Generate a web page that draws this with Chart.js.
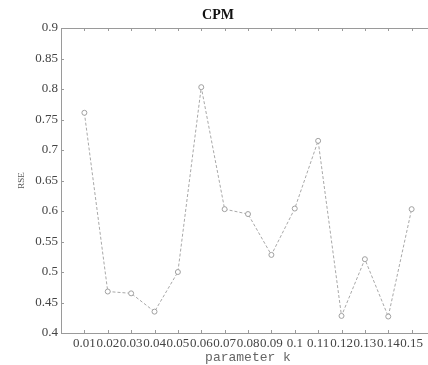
<!DOCTYPE html>
<html>
<head>
<meta charset="utf-8">
<script src="https://cdn.jsdelivr.net/npm/chart.js@4/dist/chart.umd.min.js"></script>
<style>
  html, body { margin: 0; padding: 0; overflow: hidden; background: #fff; }
  #wrap { width: 440px; height: 365px; }
</style>
</head>
<body>
<div id="wrap"><canvas id="cpm" width="440" height="365"></canvas></div>
<script>
// parameter k values and the RSE
var kValues = [0.01, 0.02, 0.03, 0.04, 0.05, 0.06, 0.07, 0.08, 0.09, 0.10, 0.11, 0.12, 0.13, 0.14, 0.15];
var rseValues = [0.761, 0.468, 0.465, 0.435, 0.500, 0.803, 0.603, 0.595, 0.528, 0.604, 0.715, 0.428, 0.521, 0.427, 0.603];
var yTicks = [0.4, 0.45, 0.5, 0.55, 0.6, 0.65, 0.7, 0.75, 0.8, 0.85, 0.9];

var axisColor = '#9a9a9a';
var textColor = '#444';

// frame on top + small inward tick marks like the original figure
var framePlugin = {
    id: 'frame',
    afterDraw: function (chart) {
        var ctx = chart.ctx, a = chart.chartArea;
        var xs = chart.scales.x, ys = chart.scales.y;
        ctx.save();
        ctx.strokeStyle = axisColor;
        ctx.lineWidth = 1;
        ctx.beginPath();
        ctx.moveTo(a.left, a.top + 0.5);
        ctx.lineTo(a.right, a.top + 0.5);
        xs.ticks.forEach(function (t) {
            var px = Math.round(xs.getPixelForValue(t.value)) + 0.5;
            ctx.moveTo(px, a.bottom);
            ctx.lineTo(px, a.bottom - 3);
            ctx.moveTo(px, a.top);
            ctx.lineTo(px, a.top + 3);
        });
        ys.ticks.forEach(function (t) {
            var py = Math.round(ys.getPixelForValue(t.value)) + 0.5;
            ctx.moveTo(a.left, py);
            ctx.lineTo(a.left + 3, py);
        });
        ctx.stroke();
        ctx.restore();
    }
};

var points = kValues.map(function (k, i) { return {x: k, y: rseValues[i]}; });

var ctx = document.getElementById("cpm").getContext("2d");
new Chart(ctx, {
    type: 'line',
    data: {
        datasets: [{
            label: 'CPM',
            data: points,
            borderColor: '#a8a8a8',
            borderWidth: 1,
            borderDash: [3, 2],
            pointRadius: 2.5,
            pointBorderWidth: 1,
            pointBorderColor: '#a0a0a0',
            pointBackgroundColor: '#fff',
            tension: 0
        }]
    },
    options: {
        responsive: false,
        animation: false,
        layout: {padding: {left: 0, right: 4, top: 0, bottom: 0}},
        plugins: {
            legend: {display: false},
            tooltip: {enabled: false},
            title: {
                display: true,
                text: 'CPM',
                color: '#111',
                font: {family: 'Liberation Serif', size: 14, weight: 'bold'},
                padding: {top: 6.6, bottom: 4.6}
            }
        },
        scales: {
            x: {
                type: 'linear',
                min: 0,
                max: 0.16,
                afterBuildTicks: function (scale) {
                    scale.ticks = kValues.map(function (v) { return {value: v}; });
                },
                afterFit: function (scale) { scale.height = 32; },
                grid: {display: false, drawTicks: false},
                border: {display: true, color: axisColor},
                ticks: {
                    autoSkip: false,
                    maxRotation: 0,
                    padding: 3,
                    color: textColor,
                    font: {family: 'Liberation Serif', size: 13},
                    callback: function (v) { return String(+v.toFixed(2)); }
                },
                title: {
                    display: true,
                    text: 'parameter k',
                    color: '#666',
                    font: {family: 'Liberation Mono', size: 13},
                    padding: {top: 0, bottom: 0}
                }
            },
            y: {
                min: 0.4,
                max: 0.9,
                afterBuildTicks: function (scale) {
                    scale.ticks = yTicks.map(function (v) { return {value: v}; });
                },
                afterFit: function (scale) { scale.width = 61; },
                grid: {display: false, drawTicks: false},
                border: {display: true, color: axisColor},
                ticks: {
                    padding: 3,
                    color: textColor,
                    font: {family: 'Liberation Serif', size: 13},
                    callback: function (v) { return String(+v.toFixed(2)); }
                },
                title: {
                    display: true,
                    text: 'RSE',
                    color: '#555',
                    font: {family: 'Liberation Serif', size: 9},
                    padding: {top: 16, bottom: 0}
                }
            }
        }
    },
    plugins: [framePlugin]
});
</script>
</body>
</html>
